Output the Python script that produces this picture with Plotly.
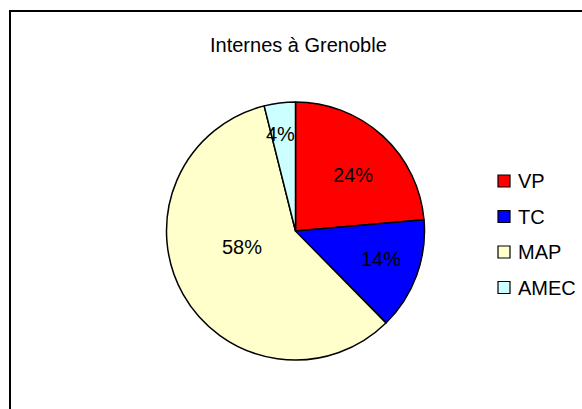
import math
import plotly.graph_objects as go

# ---- data ----
categories = ["VP", "TC", "MAP", "AMEC"]
values = [23.6, 14.0, 58.4, 3.9]
colors = ["#FF0000", "#0000FF", "#FFFFCC", "#CCFFFF"]
title_text = "Internes à Grenoble"

# ---- layout constants (pixels) ----
W, H = 582, 409
CX, CY, R = 295.5, 231.0, 129.0
label_radius = [0.62, 0.70, 0.43, 0.76]
label_angle_shift = [3.0, -2.0, 12.5, -2.0]
FONT = "Liberation Sans, Arial, sans-serif"


def px(x):
    return x / W


def py(y):
    return 1 - y / H


fig = go.Figure(
    go.Pie(
        labels=categories,
        values=values,
        sort=False,
        direction="clockwise",
        rotation=0,
        marker=dict(colors=colors, line=dict(color="black", width=1.5)),
        textinfo="none",
        hoverinfo="label+percent",
        domain=dict(x=[px(CX - R), px(CX + R)], y=[py(CY + R), py(CY - R)]),
        showlegend=False,
    )
)

annotations = []
shapes = []

# slice percentage labels, computed from the values
total = sum(values)
cum = 0.0
for i, v in enumerate(values):
    mid = (cum + v / 2) / total * 360 + label_angle_shift[i]
    cum += v
    r = label_radius[i] * R
    x = CX + r * math.sin(math.radians(mid))
    y = CY - r * math.cos(math.radians(mid))
    annotations.append(
        dict(
            x=px(x), y=py(y), xref="paper", yref="paper",
            text=f"{round(v / total * 100)}%", showarrow=False,
            xanchor="center", yanchor="middle",
            font=dict(family=FONT, size=20, color="black"),
        )
    )

# title
annotations.append(
    dict(
        x=px(298), y=py(45), xref="paper", yref="paper",
        text=title_text, showarrow=False, xanchor="center", yanchor="middle",
        font=dict(family=FONT, size=20, color="black"),
    )
)

# manual legend
for i, cat in enumerate(categories):
    yc = 181 + i * 35.5
    shapes.append(
        dict(
            type="rect", xref="paper", yref="paper",
            x0=px(498), x1=px(510), y0=py(yc + 6), y1=py(yc - 6),
            fillcolor=colors[i], line=dict(color="black", width=1.2),
        )
    )
    annotations.append(
        dict(
            x=px(516), y=py(yc), xref="paper", yref="paper",
            text=cat, showarrow=False, xanchor="left", yanchor="middle",
            font=dict(family=FONT, size=20, color="black"),
        )
    )

# outer frame (cut at right and bottom)
shapes.append(
    dict(
        type="rect", xref="paper", yref="paper",
        x0=px(10), x1=1.2, y0=-0.2, y1=py(11),
        line=dict(color="black", width=2), fillcolor="rgba(0,0,0,0)",
    )
)

fig.update_layout(
    width=W, height=H,
    margin=dict(l=0, r=0, t=0, b=0),
    paper_bgcolor="white", plot_bgcolor="white",
    annotations=annotations, shapes=shapes,
    showlegend=False,
)

fig.write_html(
    "out.html",
    config={"displayModeBar": False},
    post_script="document.body.style.margin='0px';document.body.style.overflow='hidden';",
)
